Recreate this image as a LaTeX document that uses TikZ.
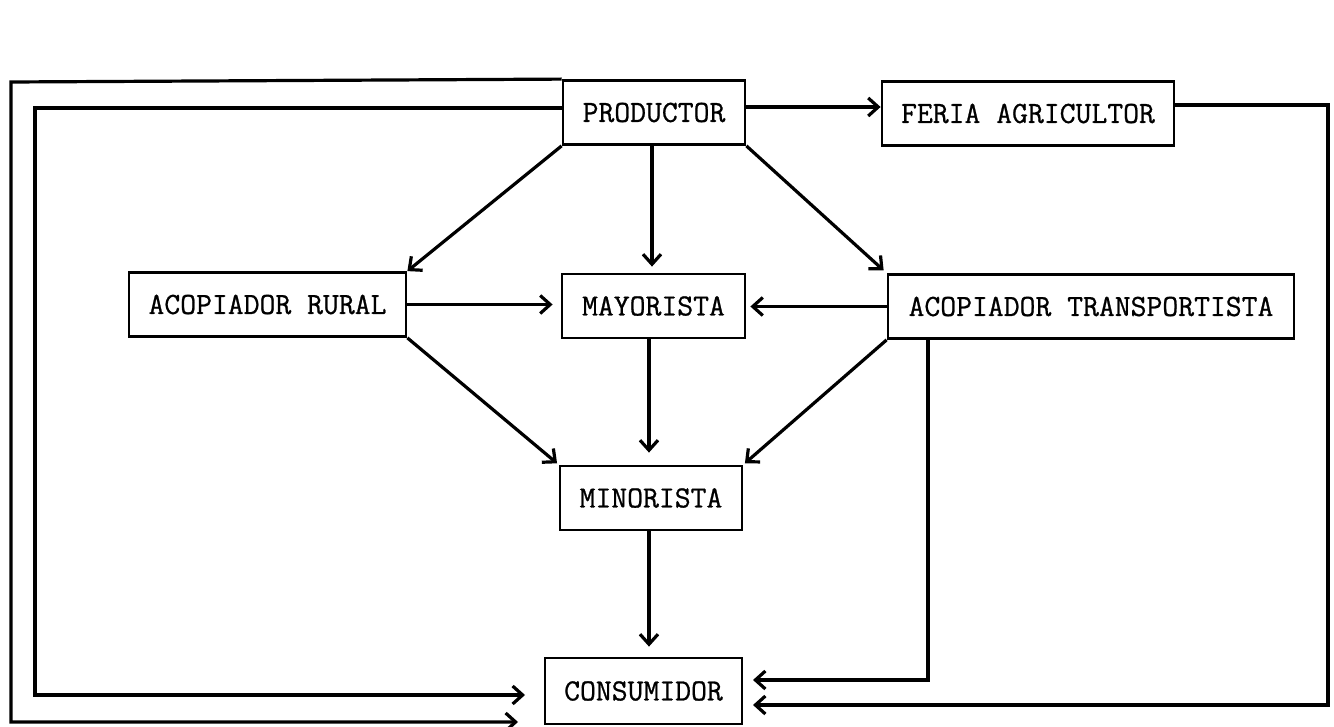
\documentclass[tikz,border=0pt]{standalone}
\usepackage{fontspec}
\newfontfamily\typew[FakeBold=0.8]{Latin Modern Mono}
\usetikzlibrary{arrows.meta,calc}
\begin{document}
\begin{tikzpicture}[x=0.5pt,y=-0.5pt,
  box/.style={draw,line width=1.4pt,minimum height=32pt,inner sep=2pt,
    font=\typew\fontsize{15.4}{18}\selectfont},
  conn/.style={line width=1.6pt},
  arr/.style={conn,-{Straight Barb[length=5pt,width=9pt]}}]
\useasboundingbox (0,0) rectangle (1334,727);

\node[box,minimum width=91pt]  (prod)  at (654,112.5) {PRODUCTOR};
\node[box,minimum width=146pt] (feria) at (1028,113.5) {FERIA AGRICULTOR};
\node[box,minimum width=138.5pt] (ar)  at (267.5,304.5) {ACOPIADOR RURAL};
\node[box,minimum width=91.5pt] (may)  at (653.5,306) {MAYORISTA};
\node[box,minimum width=203pt] (at)    at (1091,306.5) {ACOPIADOR TRANSPORTISTA};
\node[box,minimum width=91pt]  (min)   at (651,498) {MINORISTA};
\node[box,minimum width=98.5pt,minimum height=33pt] (cons) at (643.5,691) {CONSUMIDOR};

% corner coordinates of the loops
\coordinate (o1) at (11,82);
\coordinate (o2) at (11,722);
\coordinate (o3) at (518,722);
\coordinate (i1) at (35,108);
\coordinate (i2) at (35,695);
\coordinate (i3) at (525,695);
\coordinate (f1) at (745,107);
\coordinate (r1) at (1328,105);
\coordinate (r2) at (1328,705);
\coordinate (r3) at (753,705);
\coordinate (t1) at (928,680);
\coordinate (t2) at (753,680);
\coordinate (v1) at (652,0);
\coordinate (v2) at (649,0);

% outer left loop
\draw[arr] (prod.north west) -- (o1) -- (o2) -- (o3);
% inner left loop
\draw[arr] (prod.west |- i1) -- (i1) -- (i2) -- (i3);
% productor -> feria
\draw[arr] (f1) -- (feria.west |- f1);
% feria -> consumidor (right loop)
\draw[arr] (feria.east |- r1) -- (r1) -- (r2) -- (r3);
% productor -> acopiador rural, mayorista, acopiador transportista
\draw[arr] (prod.south west) -- (ar.north east);
\draw[arr,shorten >=3pt] (prod.south -| v1) -- (may.north -| v1);
\draw[arr,shorten >=2pt] (prod.south east) -- (at.north west);
% to mayorista
\draw[arr,shorten >=4pt] (ar.east) -- (may.west |- ar.east);
\draw[arr,shorten >=2pt] (at.west) -- (may.east |- at.west);
% to minorista
\draw[arr,shorten >=6pt] (may.south -| v2) -- (min.north -| v2);
\draw[arr,shorten >=1pt] (ar.south east) -- (min.north west);
\draw[arr,shorten >=1pt] (at.south west) -- (min.north east);
% to consumidor
\draw[arr,shorten >=5pt] (min.south -| v2) -- (cons.north -| v2);
\draw[arr] (t1 |- at.south) -- (t1) -- (t2);
\end{tikzpicture}
\end{document}
